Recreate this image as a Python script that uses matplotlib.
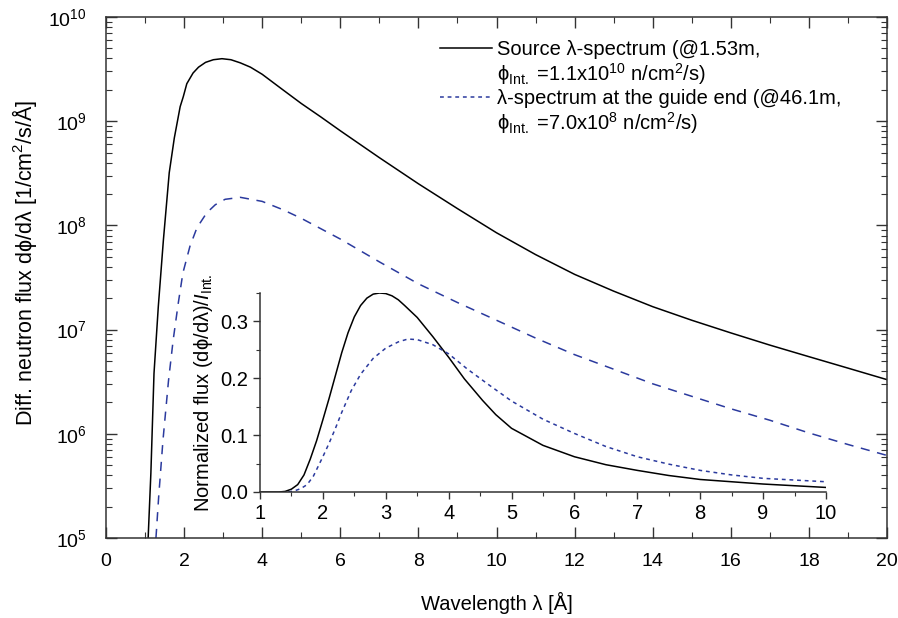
import matplotlib
matplotlib.use('Agg')
import matplotlib.pyplot as plt
from matplotlib.lines import Line2D
from matplotlib.ticker import MultipleLocator, LogLocator, NullFormatter, FormatStrFormatter

plt.rcParams.update({
    'font.family': ['Liberation Sans', 'DejaVu Sans'],
    'mathtext.fontset': 'custom',
    'mathtext.rm': 'Liberation Sans',
    'mathtext.it': 'Liberation Sans:italic',
    'mathtext.bf': 'Liberation Sans:bold',
    'font.size': 14,
})

BLUE = '#2B3A9E'
PHI = '\u03d5'

# --- main panel: differential flux ---
lam_src = [1.08, 1.15, 1.23, 1.34, 1.47, 1.62, 1.75, 1.90, 1.98, 2.07, 2.23, 2.37, 2.55,
           2.75, 2.97, 3.20, 3.44, 3.70, 4.0, 4.5, 5.0, 5.5, 6.0, 7.0, 8.0, 9.0, 10.0,
           11.0, 12.0, 13.0, 14.0, 15.0, 16.0, 17.0, 18.0, 19.0, 20.0]
flux_src = [1.0e5, 4.2e5, 3.8e6, 1.66e7, 7.2e7, 3.2e8, 6.9e8, 1.38e9, 1.72e9, 2.29e9, 2.9e9, 3.3e9, 3.67e9,
            3.89e9, 3.98e9, 3.89e9, 3.63e9, 3.3e9, 2.82e9, 2.04e9, 1.48e9, 1.10e9, 8.1e8, 4.47e8, 2.51e8, 1.45e8, 8.5e7,
            5.25e7, 3.39e7, 2.34e7, 1.66e7, 1.23e7, 9.3e6, 7.1e6, 5.5e6, 4.27e6, 3.31e6]

lam_guide = [1.28, 1.35, 1.46, 1.60, 1.72, 1.85, 1.97, 2.15, 2.33, 2.58, 2.80, 3.05, 3.44,
             4.0, 4.54, 5.0, 6.0, 7.0, 8.0, 9.0, 10.0, 11.0, 12.0, 13.0, 14.0, 15.0,
             16.0, 17.0, 18.0, 19.0, 20.0]
flux_guide = [1.0e5, 2.5e5, 8.7e5, 3.2e6, 7.9e6, 1.78e7, 3.5e7, 6.3e7, 9.5e7, 1.32e8, 1.58e8, 1.78e8, 1.86e8,
              1.70e8, 1.41e8, 1.17e8, 7.4e7, 4.47e7, 2.75e7, 1.82e7, 1.23e7, 8.3e6, 5.75e6, 4.17e6, 3.02e6, 2.29e6,
              1.74e6, 1.35e6, 1.02e6, 7.9e5, 6.2e5]

# --- inset: normalized flux ---
lam_src_n = [1.0, 1.3, 1.4, 1.5, 1.6, 1.7, 1.8, 1.9, 2.0, 2.1, 2.2, 2.3, 2.4, 2.5, 2.6, 2.7,
             2.8, 2.9, 3.0, 3.1, 3.2, 3.3, 3.5, 3.75, 4.0, 4.25, 4.54, 4.75, 5.0, 5.5, 6.0,
             6.5, 7.0, 7.5, 8.0, 8.5, 9.0, 9.5, 10.0]
norm_src = [0.0, 0.0, 0.001, 0.005, 0.013, 0.03, 0.058, 0.09, 0.127, 0.165, 0.205, 0.245, 0.28, 0.308, 0.328, 0.341,
            0.348, 0.350, 0.349, 0.345, 0.338, 0.328, 0.307, 0.273, 0.237, 0.199, 0.161, 0.136, 0.112, 0.082, 0.062,
            0.048, 0.038, 0.029, 0.022, 0.018, 0.014, 0.011, 0.008]

lam_guide_n = [1.45, 1.55, 1.65, 1.75, 1.85, 2.0, 2.1, 2.2, 2.3, 2.45, 2.6, 2.8, 3.0, 3.2,
               3.35, 3.5, 3.75, 4.0, 4.3, 4.67, 5.0, 5.5, 6.0, 6.5, 7.0, 7.5, 8.0, 8.5,
               9.0, 9.5, 10.0]
norm_guide = [0.0, 0.002, 0.006, 0.013, 0.028, 0.062, 0.086, 0.112, 0.14, 0.178, 0.207, 0.235, 0.253, 0.264,
              0.269, 0.268, 0.259, 0.243, 0.216, 0.186, 0.16, 0.128, 0.103, 0.08, 0.062, 0.049, 0.038, 0.03,
              0.024, 0.021, 0.018]

label_src = ['Source \u03bb-spectrum (@1.53m,',
             PHI + r'$_{\rm Int.}$ =1.1x10$^{10}$ n/cm$^{2}$/s)']
label_guide = ['\u03bb-spectrum at the guide end (@46.1m,',
               PHI + r'$_{\rm Int.}$ =7.0x10$^{8}$ n/cm$^{2}$/s)']

fig = plt.figure(figsize=(8.98, 6.18), dpi=100)

# ================= main axes =================
ax = fig.add_axes([0.118, 0.1294, 0.8698, 0.8431])
ax.plot(lam_src, flux_src, color='black', lw=1.1)
ax.plot(lam_guide, flux_guide, color=BLUE, lw=1.1, dashes=(6, 5))
ax.set_yscale('log')
ax.set_xlim(0, 20)
ax.set_ylim(1e5, 1e10)
ax.xaxis.set_major_locator(MultipleLocator(2))
ax.xaxis.set_minor_locator(MultipleLocator(1))
ax.yaxis.set_major_locator(LogLocator(base=10, numticks=10))
ax.yaxis.set_minor_locator(LogLocator(base=10, subs=range(2, 10), numticks=20))
ax.yaxis.set_minor_formatter(NullFormatter())
ax.tick_params(which='both', direction='in', top=True, right=True, color='#333333')
ax.tick_params(which='major', length=8, width=1.0, labelsize=14)
ax.tick_params(which='minor', length=4, width=0.8)
ax.tick_params(axis='x', which='major', pad=11)
ax.tick_params(axis='y', which='major', pad=14)
for s in ax.spines.values():
    s.set_color('#333333')
    s.set_linewidth(1.1)
ax.set_xlabel('Wavelength \u03bb [\u00c5]', fontsize=14.5)
ax.xaxis.set_label_coords(0.5, -0.104)
ax.set_ylabel('Diff. neutron flux d' + PHI + '/d\u03bb [1/cm$^{2}$/s/\u00c5]', fontsize=15.5)
ax.yaxis.set_label_coords(-0.086, 0.528)

# legend: the line sample sits on the first line of each two-line entry
blank = Line2D([], [], color='none')
h_src = Line2D([], [], color='black', lw=1.1)
h_guide = Line2D([], [], color=BLUE, lw=1.1, dashes=(2.5, 2.5))
fig.legend([h_src, blank, h_guide, blank],
           [label_src[0], label_src[1], label_guide[0], label_guide[1]],
           loc='upper left', bbox_to_anchor=(0.49, 0.935), frameon=False,
           fontsize=14.5, handlelength=2.6, handletextpad=0.25,
           labelspacing=0.1, borderpad=0, borderaxespad=0)

# ================= inset =================
ins = fig.add_axes([0.2895, 0.2039, 0.6303, 0.3220])
ins.patch.set_alpha(0)
ins.plot(lam_src_n, norm_src, color='black', lw=1.1)
ins.plot(lam_guide_n, norm_guide, color=BLUE, lw=1.1, dashes=(2.5, 2.5))
ins.set_xlim(1, 10)
ins.set_ylim(0, 0.35)
ins.spines['top'].set_visible(False)
ins.spines['right'].set_visible(False)
for s in ('left', 'bottom'):
    ins.spines[s].set_color('#333333')
    ins.spines[s].set_linewidth(1.1)
ins.xaxis.set_major_locator(MultipleLocator(1))
ins.xaxis.set_minor_locator(MultipleLocator(0.5))
ins.yaxis.set_major_locator(MultipleLocator(0.1))
ins.yaxis.set_minor_locator(MultipleLocator(0.05))
ins.yaxis.set_major_formatter(FormatStrFormatter('%.1f'))
ins.tick_params(which='both', direction='out', color='#333333')
ins.tick_params(which='major', length=5, width=1.0, labelsize=14.5)
ins.tick_params(which='minor', length=3, width=0.8)
ins.set_ylabel('Normalized flux (d' + PHI + '/d\u03bb)/' + r'$I_{\rm Int.}$', fontsize=14.5, labelpad=4)

fig.savefig('out.png', dpi=100)
